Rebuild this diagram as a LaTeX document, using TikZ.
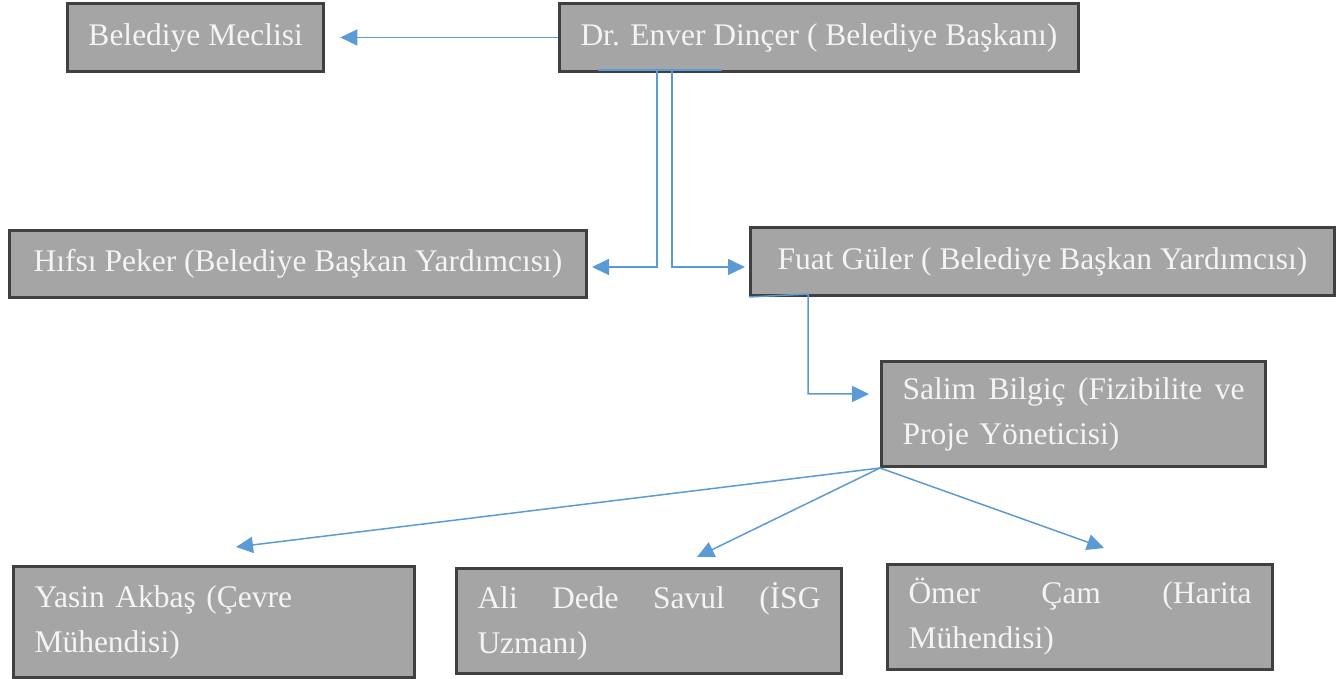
\documentclass[tikz,border=0pt]{standalone}
\usepackage{fontspec}
\setmainfont{Liberation Serif}
\usepackage{tikz}
\usetikzlibrary{arrows.meta,positioning}
\definecolor{kutugri}{HTML}{A5A5A5}
\definecolor{kenar}{HTML}{404040}
\definecolor{okmavi}{HTML}{5B9BD5}
\definecolor{yazibeyaz}{HTML}{F4F4F4}

\begin{document}
\begin{tikzpicture}[x=0.5pt,y=-0.5pt,
    kutu/.style={draw=kenar, fill=kutugri, line width=1.5pt, text=yazibeyaz,
      anchor=north west, inner xsep=10.5pt, inner ysep=0pt, align=left,
      font=\fontsize{15.75}{22.5}\selectfont},
    ok/.style={draw=okmavi, line width=0.75pt, -{Triangle[length=8.5pt,width=8pt]}},
    hat/.style={draw=okmavi, line width=0.75pt}]
  \useasboundingbox (0,0) rectangle (1341,679);

  % Ust kademe
  \node[kutu, minimum width=127.5pt, minimum height=34pt] (meclis) at (66,2) {Belediye Meclisi};
  \node[kutu, minimum width=258.5pt, minimum height=34pt] (baskan) at (558,2) {Dr. Enver Dinçer ( Belediye Başkanı)};

  % Yardimcilar
  \node[kutu, minimum width=288.5pt, minimum height=33.5pt] (hifsi) at (8,229) {Hıfsı Peker (Belediye Başkan Yardımcısı)};
  \node[kutu, minimum width=292pt, minimum height=34pt] (fuat) at (749,226) {Fuat Güler ( Belediye Başkan Yardımcısı)};

  % Proje yoneticisi
  \node[kutu, text width=171pt, minimum height=52.5pt] (salim) at (880,360)
    {Salim\hfill Bilgiç\hfill (Fizibilite\hfill ve\\Proje Yöneticisi)};

  % Alt kademe
  \node[kutu, text width=179.5pt, minimum height=55.5pt] (yasin) at (12,565)
    {Yasin Akbaş (Çevre\\Mühendisi)};
  \node[kutu, text width=171.5pt, minimum height=52.5pt] (ali) at (455,567)
    {Ali\hfill Dede\hfill Savul\hfill (İSG\\Uzmanı)};
  \node[kutu, text width=171.5pt, minimum height=52.5pt] (omer) at (886,563)
    {Ömer\hfill Çam\hfill (Harita\\Mühendisi)};

  % Baglanti noktalari
  \coordinate (altcizgiA) at (598,70);
  \coordinate (altcizgiB) at (722,70);
  \coordinate (kolsol) at (657,70);
  \coordinate (kolsag) at (672,70);
  \coordinate (hifsiuc) at (592,267);
  \coordinate (fuatuc) at (745,267);
  \coordinate (dirsek) at (808,294);
  \coordinate (salimuc) at (869,394);
  \coordinate (yasinuc) at (236,547);
  \coordinate (aliuc) at (697,557);
  \coordinate (omeruc) at (1104,548);

  % Oklar
  \draw[ok, shorten >=7.5pt] (baskan.west) -- (meclis.east);
  \draw[hat] (altcizgiA) -- (altcizgiB);
  \draw[ok] (kolsol) |- (hifsiuc);
  \draw[ok] (kolsag) |- (fuatuc);
  \draw[ok] (fuat.south west) -- (dirsek) |- (salimuc);
  \draw[ok] (salim.south west) -- (yasinuc);
  \draw[ok] (salim.south west) -- (aliuc);
  \draw[ok] (salim.south west) -- (omeruc);
\end{tikzpicture}
\end{document}
